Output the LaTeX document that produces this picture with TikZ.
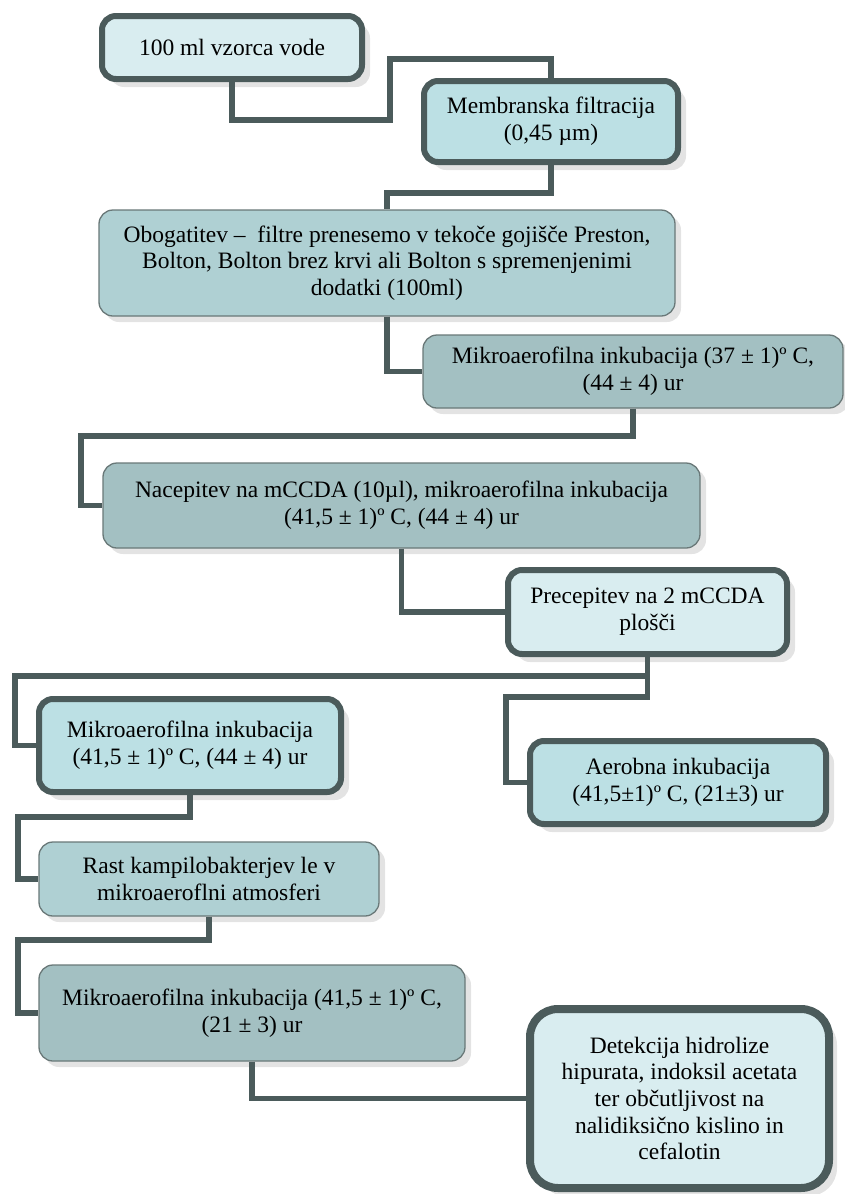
\documentclass[tikz,border=0pt]{standalone}
\usepackage{fontspec}
\setmainfont{Liberation Serif}
\usetikzlibrary{shadows}

\definecolor{framegray}{RGB}{75,91,91}
\definecolor{edgegray}{RGB}{105,120,120}
\definecolor{shadowgray}{RGB}{200,200,200}
\definecolor{palecyan}{RGB}{217,237,240}
\definecolor{softcyan}{RGB}{188,224,228}
\definecolor{mistcyan}{RGB}{175,208,211}
\definecolor{dullcyan}{RGB}{163,192,194}

\begin{document}
\begin{tikzpicture}[x=1pt,y=-1pt,font=\fontsize{23.5}{26.7}\selectfont]
    \tikzstyle{box}=[rectangle,align=center,inner sep=0pt]
    \tikzstyle{thin stage}=[box,rounded corners=14pt,draw=edgegray,line width=1.3pt,
        drop shadow={shadow xshift=6pt,shadow yshift=-6pt,fill=shadowgray}]
    \tikzstyle{bold stage}=[box,rounded corners=14pt,draw=framegray,line width=6pt,
        drop shadow={shadow xshift=8pt,shadow yshift=-8pt,fill=shadowgray}]
    \tikzstyle{link}=[draw=framegray,line width=5.5pt]

    \useasboundingbox (0,0) rectangle (844,1194);

    % Sample and filtration
    \node[bold stage, fill=palecyan, minimum width=260, minimum height=63] (sample) at (232,47.5)
        {100 ml vzorca vode};
    \node[bold stage, fill=softcyan, minimum width=254, minimum height=81] (filter) at (551,121.5)
        {Membranska filtracija\\(0,45 µm)};

    % Enrichment
    \node[thin stage, fill=mistcyan, minimum width=576, minimum height=106] (enrich) at (387,263)
        {Obogatitev –~ filtre prenesemo v tekoče gojišče Preston,\\Bolton, Bolton brez krvi ali Bolton s spremenjenimi\\dodatki (100ml)};
    \node[thin stage, fill=dullcyan, minimum width=420, minimum height=73] (incubA) at (633,371.5)
        {Mikroaerofilna inkubacija (37 ± 1)º C,\\(44 ± 4) ur};

    % Plating
    \node[thin stage, fill=dullcyan, minimum width=597, minimum height=85] (plate) at (401.5,505.5)
        {Nacepitev na mCCDA (10µl), mikroaerofilna inkubacija\\(41,5 ± 1)º C, (44 ± 4) ur};
    \node[bold stage, fill=palecyan, minimum width=279, minimum height=84] (replate) at (647.5,612)
        {Precepitev na 2 mCCDA\\plošči};

    % Two incubations
    \node[bold stage, fill=softcyan, minimum width=302, minimum height=93] (incubB) at (190,745.5)
        {Mikroaerofilna inkubacija\\(41,5 ± 1)º C, (44 ± 4) ur};
    \node[bold stage, fill=softcyan, minimum width=296, minimum height=83] (aerob) at (678,782.5)
        {Aerobna inkubacija\\(41,5±1)º C, (21±3) ur};

    % Confirmation
    \node[thin stage, fill=mistcyan, minimum width=340, minimum height=74] (growth) at (209,879)
        {Rast kampilobakterjev le v\\mikroaeroflni atmosferi};
    \node[thin stage, fill=dullcyan, minimum width=426, minimum height=96] (incubC) at (252,1013)
        {Mikroaerofilna inkubacija (41,5 ± 1)º C,\\(21 ± 3) ur};
    \node[bold stage, fill=palecyan, line width=8pt, rounded corners=28pt,
        minimum width=299, minimum height=179] (detect) at (679.5,1098.5)
        {Detekcija hidrolize\\hipurata, indoksil acetata\\ter občutljivost na\\nalidiksično kislino in\\cefalotin};

    % Connect the steps
    \draw[link] (sample.south) |- (390,120) -- (390,59) -| (filter.north);
    \draw[link] (filter.south) -- ++(0,28) -| (enrich.north);
    \draw[link] (enrich.south) |- (incubA.west);
    \draw[link] (incubA.south) |- (81,436) |- (plate.west);
    \draw[link] (plate.south) |- (replate.west);
    \draw[link] (replate.south) |- (15,676) |- (incubB.west);
    \draw[link] (replate.south) |- (506,697) |- (aerob.west);
    \draw[link] (incubB.south) |- (18,817) |- (growth.west);
    \draw[link] (growth.south) |- (18,940) |- (incubC.west);
    \draw[link] (incubC.south) |- (detect.west);
\end{tikzpicture}
\end{document}
